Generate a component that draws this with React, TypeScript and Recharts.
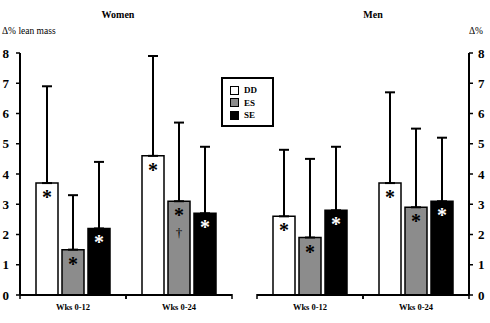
import React from 'react';
import { BarChart, Bar, XAxis, YAxis, ErrorBar, LabelList, Legend } from 'recharts';

const categories = ['Wks 0-12', 'Wks 0-24'];
const seriesNames = ['DD', 'ES', 'SE'];
const seriesColors = ['#ffffff', '#8c8c8c', '#000000'];
const markColors = ['#000000', '#000000', '#ffffff'];
const yTicks = [0, 1, 2, 3, 4, 5, 6, 7, 8];

const womenDD = [3.7, 4.6];
const womenES = [1.5, 3.1];
const womenSE = [2.2, 2.7];
const womenDDsd = [3.2, 3.3];
const womenESsd = [1.8, 2.6];
const womenSEsd = [2.2, 2.2];
const womenDDmark = ['*', '*'];
const womenESmark = ['*', '*†'];
const womenSEmark = ['*', '*'];

const menDD = [2.6, 3.7];
const menES = [1.9, 2.9];
const menSE = [2.8, 3.1];
const menDDsd = [2.2, 3.0];
const menESsd = [2.6, 2.6];
const menSEsd = [2.1, 2.1];
const menDDmark = ['*', '*'];
const menESmark = ['*', '*'];
const menSEmark = ['*', '*'];

const serif = "'Liberation Serif', 'Times New Roman', serif";

const buildRows = (vals: number[][], sds: number[][], marks: string[][]) =>
  categories.map((cat, i) => {
    const row: any = { cat };
    seriesNames.forEach((s, k) => {
      row[s] = vals[k][i];
      row[s + 'Err'] = [0, sds[k][i]];
      row[s + 'Mark'] = marks[k][i];
    });
    return row;
  });

const womenData = buildRows(
  [womenDD, womenES, womenSE],
  [womenDDsd, womenESsd, womenSEsd],
  [womenDDmark, womenESmark, womenSEmark]
);
const menData = buildRows(
  [menDD, menES, menSE],
  [menDDsd, menESsd, menSEsd],
  [menDDmark, menESmark, menSEmark]
);

const renderMark = (color: string) => (props: any) => {
  const x = Number(props.x);
  const y = Number(props.y);
  const w = Number(props.width);
  const txt = String(props.value ?? '');
  const cx = x + w / 2;
  return (
    <g>
      <text x={cx} y={y + 21} textAnchor="middle" fill={color} fontFamily={serif} fontWeight="bold" fontSize={20}>*</text>
      {txt.includes('†') && (
        <text x={cx} y={y + 36} textAnchor="middle" fill={color} fontFamily={serif} fontSize={13}>†</text>
      )}
    </g>
  );
};

// category tick: label at centre, tick marks at the band edges
const CatTick = (props: any) => {
  const { x, y, payload } = props;
  const half = Number(payload?.offset ?? 0);
  const axisY = Number(y) - 6;
  return (
    <g>
      <line x1={x - half} y1={axisY - 1} x2={x - half} y2={axisY + 4} stroke="#000" strokeWidth={1.5} />
      <line x1={x + half} y1={axisY - 1} x2={x + half} y2={axisY + 4} stroke="#000" strokeWidth={1.5} />
      <text x={x} y={y} dy={9} textAnchor="middle" fill="#000" fontFamily={serif} fontWeight="bold" fontSize={8.5}>
        {payload.value}
      </text>
    </g>
  );
};

const LegendBox = () => (
  <div style={{ width: 49, height: 46, border: '2px solid #000', background: '#fff', boxSizing: 'content-box' }}>
    {seriesNames.map((s, k) => (
      <div key={s} style={{ display: 'flex', alignItems: 'center', height: 12.5, marginTop: k === 0 ? 5 : 0, paddingLeft: 7 }}>
        <span style={{ width: 9, height: 9, background: seriesColors[k], border: '1px solid #000', boxSizing: 'border-box', display: 'inline-block' }} />
        <span style={{ marginLeft: 5, fontFamily: serif, fontWeight: 'bold', fontSize: 9, color: '#000' }}>{s}</span>
      </div>
    ))}
  </div>
);

const Panel = ({ data, side }: { data: any[]; side: 'left' | 'right' }) => {
  const left = side === 'left';
  return (
    <BarChart
      width={245}
      height={323}
      data={data}
      margin={left ? { top: 53, right: 13, bottom: 8, left: 0 } : { top: 53, right: 0, bottom: 8, left: 12 }}
      barCategoryGap={16}
      barGap={4}
    >
      <XAxis
        dataKey="cat"
        tickLine={false}
        axisLine={{ stroke: '#000', strokeWidth: 2 }}
        height={20}
        tickSize={4}
        tickMargin={2}
        tick={<CatTick />}
      />
      <YAxis
        orientation={left ? 'left' : 'right'}
        width={left ? 20 : 21}
        domain={[0, 8]}
        ticks={yTicks}
        interval={0}
        tickSize={4}
        tickMargin={left ? 7 : 5}
        axisLine={{ stroke: '#000', strokeWidth: 2 }}
        tickLine={{ stroke: '#000', strokeWidth: 1.5 }}
        tick={{ fontFamily: serif, fontWeight: 'bold', fontSize: 13, fill: '#000' }}
      />
      {left && (
        <Legend
          layout="horizontal"
          verticalAlign="middle"
          align="center"
          wrapperStyle={{ position: 'absolute', left: 221, top: 77, width: 53, height: 50 }}
          content={() => <LegendBox />}
        />
      )}
      {seriesNames.map((s, k) => (
        <Bar key={s} dataKey={s} name={s} fill={seriesColors[k]} stroke="#000" strokeWidth={1.5} isAnimationActive={false}>
          <ErrorBar dataKey={s + 'Err'} direction="y" width={5} stroke="#000" strokeWidth={2} />
          <LabelList dataKey={s + 'Mark'} content={renderMark(markColors[k])} />
        </Bar>
      ))}
    </BarChart>
  );
};

const textStyle: React.CSSProperties = { position: 'absolute', fontFamily: serif, color: '#000', whiteSpace: 'nowrap', lineHeight: 1 };

export default function App() {
  return (
    <div style={{ position: 'absolute', left: 0, top: 0, width: 490, height: 323, background: '#fff', overflow: 'hidden' }}>
      <div style={{ position: 'absolute', left: 245, top: 0 }}>
        <Panel data={menData} side="right" />
      </div>
      <div style={{ position: 'absolute', left: 0, top: 0 }}>
        <Panel data={womenData} side="left" />
      </div>
      <div style={{ ...textStyle, left: 118, top: 10, transform: 'translateX(-50%)', fontWeight: 'bold', fontSize: 10 }}>Women</div>
      <div style={{ ...textStyle, left: 373, top: 10, transform: 'translateX(-50%)', fontWeight: 'bold', fontSize: 10 }}>Men</div>
      <div style={{ ...textStyle, left: 2, top: 27, fontSize: 9.5 }}>Δ% lean mass</div>
      <div style={{ ...textStyle, left: 469, top: 27, fontSize: 9.5 }}>Δ%</div>
    </div>
  );
}
